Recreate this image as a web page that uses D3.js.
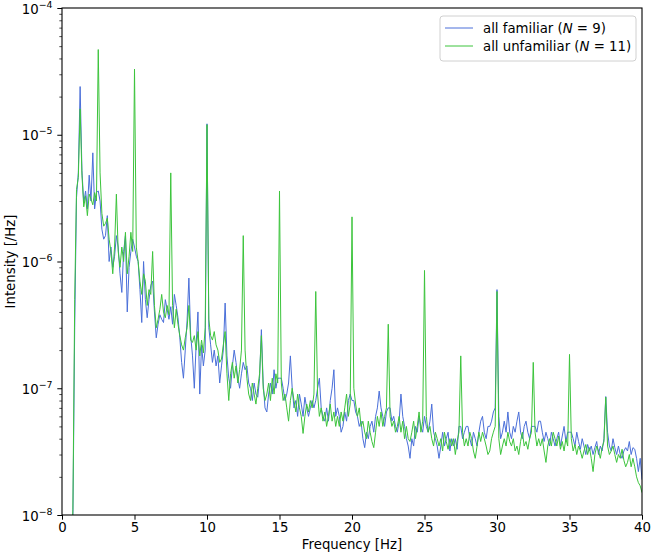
<!DOCTYPE html>
<html>
<head>
<meta charset="utf-8">
<script src="https://cdn.jsdelivr.net/npm/d3@7"></script>
<style>
  body { margin: 0; background: #fff; }
  svg { font-family: "DejaVu Sans", sans-serif; }
</style>
</head>
<body>
<div id="chart"></div>
<script>
// spectrum sampled every 0.125 Hz from 0 to 40 Hz
const FREQ_STEP = 0.125;

const familiar = [
  3e-10, 4e-10, 5e-10, 8e-10, 1.5e-9, 3e-9, 9e-9, 3e-7,
  3.2e-6, 5e-6, 2.4e-5, 5.2e-6, 2.9e-6, 3.6e-6, 2.6e-6, 4.8e-6,
  3.0e-6, 7.2e-6, 2.6e-6, 3.5e-6, 3.6e-6, 3.0e-6, 1.8e-6, 1.5e-6,
  1.6e-6, 2.3e-6, 1.0e-6, 1.3e-6, 9e-7, 1.1e-6, 1.6e-6, 1.3e-6,
  8e-7, 5.7e-7, 1.2e-6, 1.6e-6, 4e-7, 9e-7, 1.2e-6, 1.5e-6,
  1.3e-6, 1.1e-6, 1.0e-6, 6e-7, 3.3e-7, 1.0e-6, 5e-7, 3.6e-7,
  5e-7, 6.5e-7, 7e-7, 4e-7, 2.5e-7, 3.2e-7, 3.8e-7, 3.5e-7,
  3.3e-7, 5e-7, 4.2e-7, 3.5e-7, 4.4e-7, 3.2e-7, 5.5e-7, 4.5e-7,
  3.6e-7, 2.5e-7, 1.6e-7, 1.2e-7, 2.0e-7, 3.4e-7, 7.4e-7, 2.6e-7,
  1.8e-7, 1.0e-7, 2.2e-7, 4e-7, 9e-8, 2.2e-7, 1.5e-7, 2.0e-7,
  1.22e-5, 3.0e-7, 2.2e-7, 1.6e-7, 2.0e-7, 1.5e-7, 1.8e-7, 1.1e-7,
  1.5e-7, 2.0e-7, 4.7e-7, 1.8e-7, 1.2e-7, 1.0e-7, 1.5e-7, 2.0e-7,
  1.6e-7, 1.2e-7, 1.0e-7, 1.3e-7, 1.6e-7, 1.4e-7, 1.5e-7, 1.1e-7,
  1.0e-7, 8e-8, 1.1e-7, 9e-8, 8.5e-8, 1.2e-7, 2.9e-7, 1.1e-7,
  7e-8, 6.5e-8, 9e-8, 1.1e-7, 9e-8, 1.4e-7, 1.0e-7, 1.2e-7,
  1.2e-7, 1.2e-7, 1.0e-7, 8e-8, 9e-8, 1.1e-7, 1.8e-7, 1.0e-7,
  7e-8, 8e-8, 6e-8, 9e-8, 7.5e-8, 6e-8, 8.5e-8, 7e-8,
  6e-8, 7e-8, 8e-8, 7e-8, 8e-8, 1.0e-7, 1.2e-7, 7e-8,
  6e-8, 5.5e-8, 7e-8, 5.5e-8, 8e-8, 1.0e-7, 1.4e-7, 6e-8,
  7e-8, 6e-8, 4.5e-8, 5e-8, 6.5e-8, 5.5e-8, 8e-8, 9e-8,
  8e-8, 8e-8, 6.5e-8, 6e-8, 5e-8, 5.5e-8, 4e-8, 3.4e-8,
  4.5e-8, 4e-8, 5e-8, 5.5e-8, 4.5e-8, 6e-8, 7e-8, 9.5e-8,
  7e-8, 6e-8, 5e-8, 6.5e-8, 7e-8, 7e-8, 5.5e-8, 6e-8,
  5e-8, 4.5e-8, 5.5e-8, 9e-8, 6e-8, 5e-8, 4e-8, 3.5e-8,
  2.8e-8, 4e-8, 3.5e-8, 5e-8, 4.5e-8, 6e-8, 5e-8, 4.5e-8,
  6e-8, 5e-8, 4.5e-8, 5.5e-8, 7.5e-8, 4.5e-8, 4e-8, 3.5e-8,
  2.8e-8, 3.5e-8, 4.5e-8, 3.5e-8, 4e-8, 4.5e-8, 3.2e-8, 4e-8,
  3.5e-8, 4e-8, 3.3e-8, 5e-8, 5e-8, 4e-8, 4.5e-8, 5e-8,
  5e-8, 4e-8, 3.5e-8, 4.5e-8, 4e-8, 3.5e-8, 4.5e-8, 5.5e-8,
  6e-8, 4.5e-8, 4e-8, 5e-8, 5e-8, 5.5e-8, 6.5e-8, 7e-8,
  6.0e-7, 6e-8, 4e-8, 4.5e-8, 5.5e-8, 4.5e-8, 6.5e-8, 4.5e-8,
  4e-8, 5e-8, 4.5e-8, 5.5e-8, 6.5e-8, 4.5e-8, 4e-8, 5e-8,
  5.5e-8, 4.5e-8, 4e-8, 5e-8, 5e-8, 5e-8, 4.5e-8, 5.5e-8,
  5.5e-8, 4.5e-8, 3.8e-8, 4.5e-8, 4e-8, 3.5e-8, 4.5e-8, 4e-8,
  3.5e-8, 4e-8, 4.5e-8, 3.5e-8, 4.2e-8, 5e-8, 3.8e-8, 4.5e-8,
  4.5e-8, 4.5e-8, 4e-8, 3.5e-8, 4.5e-8, 3.8e-8, 3.3e-8, 4e-8,
  3.5e-8, 3e-8, 3.6e-8, 3.2e-8, 3.5e-8, 3e-8, 3.4e-8, 3.8e-8,
  3e-8, 3.5e-8, 3.2e-8, 4e-8, 8.6e-8, 4.5e-8, 3.5e-8, 3.2e-8,
  4e-8, 3.4e-8, 3e-8, 3.5e-8, 3e-8, 2.8e-8, 3.2e-8, 3.4e-8,
  3.2e-8, 3.8e-8, 3e-8, 3.4e-8, 3.3e-8, 2.8e-8, 2.2e-8, 2.8e-8, 1.9e-8
];

const unfamiliar = [
  3e-10, 4e-10, 5e-10, 8e-10, 1.5e-9, 3e-9, 1.1e-8, 5e-7,
  3.7e-6, 4.6e-6, 1.6e-5, 4.8e-6, 2.7e-6, 3.3e-6, 2.3e-6, 3.4e-6,
  3.1e-6, 2.8e-6, 3.5e-6, 3.0e-6, 4.7e-5, 5.0e-6, 2.4e-6, 1.9e-6,
  2.0e-6, 2.2e-6, 1.5e-6, 1.2e-6, 8e-7, 1.3e-6, 3.4e-6, 1.2e-6,
  9e-7, 1.3e-6, 1.0e-6, 1.7e-6, 8e-7, 1.1e-6, 1.7e-6, 1.2e-6,
  3.3e-5, 1.3e-6, 1.0e-6, 7e-7, 5.5e-7, 8e-7, 7e-7, 4.5e-7,
  6e-7, 5.5e-7, 1.2e-6, 4.5e-7, 3e-7, 3.5e-7, 4.2e-7, 5.5e-7,
  4e-7, 3.6e-7, 4.5e-7, 3.8e-7, 5e-6, 4.5e-7, 3.0e-7, 4.2e-7,
  3.2e-7, 2.6e-7, 2.2e-7, 2.0e-7, 2.5e-7, 3.0e-7, 4.5e-7, 2.4e-7,
  2.3e-7, 2.6e-7, 2.0e-7, 2.8e-7, 1.8e-7, 2.4e-7, 1.9e-7, 3.0e-7,
  1.2e-5, 3.5e-7, 2.6e-7, 2.4e-7, 2.8e-7, 2.2e-7, 2.0e-7, 1.6e-7,
  1.7e-7, 2.2e-7, 2.8e-7, 1.3e-7, 8e-8, 1.3e-7, 1.6e-7, 1.2e-7,
  1.5e-7, 1.1e-7, 1.4e-7, 2.0e-7, 1.6e-6, 2.0e-7, 1.2e-7, 9e-8,
  8e-8, 1.1e-7, 9e-8, 7.5e-8, 1.0e-7, 1.3e-7, 2.6e-7, 1.0e-7,
  8e-8, 9e-8, 1.1e-7, 8e-8, 1.2e-7, 9e-8, 1.3e-7, 1.1e-7,
  3.6e-6, 1.1e-7, 8e-8, 9e-8, 7e-8, 5.5e-8, 8e-8, 1.0e-7,
  8e-8, 6.5e-8, 9e-8, 7e-8, 6e-8, 4.4e-8, 6e-8, 7.5e-8,
  6.5e-8, 8e-8, 7e-8, 9e-8, 5.8e-7, 9e-8, 6e-8, 7e-8,
  5.5e-8, 6.5e-8, 5e-8, 6e-8, 7.5e-8, 5.5e-8, 6.5e-8, 5e-8,
  6e-8, 5e-8, 6.5e-8, 5.5e-8, 7e-8, 9e-8, 6e-8, 7.5e-8,
  2.25e-6, 1.0e-7, 7.5e-8, 6e-8, 7e-8, 5e-8, 5.5e-8, 4.5e-8,
  4e-8, 5.5e-8, 4.5e-8, 3.8e-8, 3.4e-8, 4.5e-8, 6e-8, 5e-8,
  6.5e-8, 5e-8, 6e-8, 7e-8, 3.2e-7, 6e-8, 5e-8, 5.5e-8,
  4.5e-8, 5e-8, 6e-8, 4.5e-8, 5.5e-8, 4e-8, 5e-8, 4e-8,
  3.8e-8, 4.5e-8, 5.5e-8, 4e-8, 5e-8, 6.5e-8, 4.5e-8, 5.5e-8,
  8.5e-7, 6e-8, 4.5e-8, 5e-8, 4e-8, 3.5e-8, 4.5e-8, 4e-8,
  3.5e-8, 4e-8, 3.2e-8, 4.5e-8, 3.8e-8, 3.3e-8, 4e-8, 3.5e-8,
  4e-8, 3e-8, 3.8e-8, 4.5e-8, 1.8e-7, 4.5e-8, 3.5e-8, 4e-8,
  3.5e-8, 4.5e-8, 4e-8, 3.2e-8, 2.8e-8, 3.5e-8, 4.5e-8, 3.8e-8,
  4.5e-8, 4e-8, 3.5e-8, 3e-8, 3.2e-8, 4e-8, 4.5e-8, 5e-8,
  5.8e-7, 4e-8, 3e-8, 3.5e-8, 4e-8, 3.5e-8, 4.5e-8, 3.8e-8,
  3.5e-8, 4e-8, 3.2e-8, 3.5e-8, 3.0e-8, 3.8e-8, 4.5e-8, 3.5e-8,
  3.8e-8, 3.3e-8, 4e-8, 4.5e-8, 1.6e-7, 4.5e-8, 3.5e-8, 4e-8,
  3.5e-8, 4e-8, 3.2e-8, 2.6e-8, 3.5e-8, 4e-8, 3.5e-8, 4.5e-8,
  4e-8, 3.5e-8, 4.2e-8, 3.3e-8, 3.8e-8, 3.2e-8, 4e-8, 3.5e-8,
  1.85e-7, 4e-8, 3.2e-8, 3.6e-8, 3e-8, 3.5e-8, 3.2e-8, 2.8e-8,
  3.2e-8, 3.6e-8, 3e-8, 3.4e-8, 2.8e-8, 2.2e-8, 3e-8, 3.5e-8,
  3.2e-8, 2.8e-8, 3.4e-8, 3.8e-8, 8.5e-8, 3.5e-8, 3e-8, 3.2e-8,
  3.5e-8, 3e-8, 2.6e-8, 3e-8, 2.8e-8, 3.3e-8, 2.7e-8, 2.4e-8,
  2.6e-8, 3e-8, 2.4e-8, 2.8e-8, 2.4e-8, 2.0e-8, 1.8e-8, 1.7e-8, 1.5e-8
];

const xTicks = [0, 5, 10, 15, 20, 25, 30, 35, 40];
const yMajorExp = [-4, -5, -6, -7, -8];

const seriesNames = ["all familiar", "all unfamiliar"];
const seriesN = [9, 11];
const seriesColors = ["#4a6fd9", "#3cc43c"];

const W = 653, H = 558;
const margin = { top: 8, right: 11, bottom: 43, left: 62 };
const width = W - margin.left - margin.right;
const height = H - margin.top - margin.bottom;

const svg = d3.select("#chart").append("svg")
  .attr("width", W)
  .attr("height", H);

const g = svg.append("g")
  .attr("transform", `translate(${margin.left},${margin.top})`);

const x = d3.scaleLinear().domain([0, 40]).range([0, width]);
const y = d3.scaleLog().domain([1e-8, 1e-4]).range([height, 0]);

svg.append("defs").append("clipPath")
  .attr("id", "plot-clip")
  .append("rect")
  .attr("width", width)
  .attr("height", height);

// x axis
const xAxis = g.append("g")
  .attr("transform", `translate(0,${height})`)
  .call(d3.axisBottom(x).tickValues(xTicks).tickSize(4.7).tickPadding(3).tickFormat(d3.format("d")));
xAxis.select(".domain").remove();
xAxis.selectAll("text").attr("font-size", "13.3px").attr("fill", "#000")
  .attr("font-family", "DejaVu Sans");

// y axis, minor ticks
const yMinor = [];
yMajorExp.slice(1).forEach(e => {
  for (let m = 2; m <= 9; m++) yMinor.push(m * Math.pow(10, e));
});
const yMinorAxis = g.append("g")
  .call(d3.axisLeft(y).tickValues(yMinor).tickSize(2.7).tickFormat(""));
yMinorAxis.select(".domain").remove();
yMinorAxis.selectAll("line").attr("stroke-width", 0.7);

// y axis, major ticks with 10^k labels
const yMajorAxis = g.append("g")
  .call(d3.axisLeft(y).tickValues(yMajorExp.map(e => Math.pow(10, e))).tickSize(4.7).tickFormat(""));
yMajorAxis.select(".domain").remove();
yMajorAxis.selectAll(".tick text").each(function (d) {
  const t = d3.select(this)
    .attr("dy", null)
    .attr("y", 5)
    .attr("x", -9.5)
    .attr("text-anchor", "end")
    .attr("fill", "#000")
    .attr("font-family", "DejaVu Sans")
    .attr("font-size", "13.3px");
  t.append("tspan").text("10");
  t.append("tspan")
    .attr("font-size", "9.4px")
    .attr("dy", -6)
    .text("\u2212" + Math.abs(Math.round(Math.log10(d))));
});

// lines
const line = d3.line()
  .x((d, i) => x(i * FREQ_STEP))
  .y(d => y(d));

const lines = g.append("g").attr("clip-path", "url(#plot-clip)");
[familiar, unfamiliar].forEach((vals, k) => {
  lines.append("path")
    .datum(vals)
    .attr("fill", "none")
    .attr("stroke", seriesColors[k])
    .attr("stroke-width", 1)
    .attr("stroke-linejoin", "round")
    .attr("d", line);
});

// frame
g.append("rect")
  .attr("width", width)
  .attr("height", height)
  .attr("fill", "none")
  .attr("stroke", "#000")
  .attr("stroke-width", 1.1);

// axis labels
g.append("text")
  .attr("x", width / 2)
  .attr("y", height + 34)
  .attr("text-anchor", "middle")
  .attr("font-size", "13.3px")
  .text("Frequency [Hz]");

g.append("text")
  .attr("transform", "rotate(-90)")
  .attr("x", -height / 2)
  .attr("y", -margin.left + 15)
  .attr("text-anchor", "middle")
  .attr("font-size", "13.3px")
  .text("Intensity [/Hz]");

// legend
const legend = g.append("g")
  .attr("transform", `translate(${width - 202},8)`);
legend.append("rect")
  .attr("width", 196)
  .attr("height", 45)
  .attr("rx", 3)
  .attr("fill", "#fff")
  .attr("stroke", "#d0d0d0")
  .attr("stroke-width", 1);

seriesNames.forEach((name, i) => {
  const row = legend.append("g").attr("transform", `translate(0,${12 + i * 18})`);
  row.append("line")
    .attr("x1", 5).attr("x2", 33)
    .attr("stroke", seriesColors[i])
    .attr("stroke-width", 1);
  const t = row.append("text")
    .attr("x", 43)
    .attr("y", 5)
    .attr("font-size", "13.3px");
  t.append("tspan").text(name + " (");
  t.append("tspan").attr("font-style", "italic").text("N");
  t.append("tspan").text(" = " + seriesN[i] + ")");
});
</script>
</body>
</html>
